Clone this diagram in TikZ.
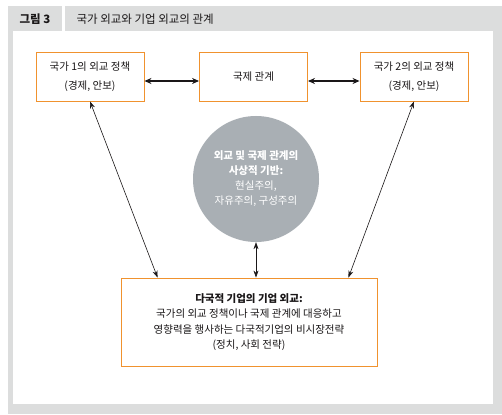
\documentclass[tikz,border=0pt]{standalone}
\usepackage{fontspec}
\setmainfont{Noto Sans CJK KR}
\usepackage{tikz}
\usetikzlibrary{arrows.meta}
\usepackage{xcolor}

\definecolor{frame}{HTML}{DCDDDD}
\definecolor{boxline}{HTML}{F0922E}
\definecolor{disc}{HTML}{A9AFB4}
\definecolor{ink}{HTML}{1A1718}

\tikzset{
  policy/.style={draw=boxline, line width=0.9pt, fill=white, text=ink, align=center,
    minimum width=108pt, minimum height=49pt, font=\fontsize{10.5}{19}\selectfont},
  firm/.style={draw=boxline, line width=0.9pt, fill=white, text=ink, align=center,
    minimum width=256pt, minimum height=88pt, font=\fontsize{10.5}{15.5}\selectfont},
  link/.style={{Stealth[length=7pt,width=6pt]}-{Stealth[length=7pt,width=6pt]}, line width=1.1pt, ink},
  tie/.style={{Stealth[length=7pt,width=5pt]}-{Stealth[length=7pt,width=5pt]}, line width=0.6pt, ink}
}

\begin{document}
\begin{tikzpicture}[x=1pt, y=-1pt]
    % frame and header
    \fill[frame] (0,0) rectangle (502,414);
    \fill[white] (0,0) rectangle (502,6);
    \fill[white] (0,0) rectangle (8,414);
    \fill[white] (13,31) rectangle (493,404);
    \fill[white] (62,6) rectangle (65,31);
    \node[text=ink, font=\fontsize{11.5}{12}\selectfont\bfseries] (fig) at (35,19) {그림 3};
    \node[text=ink, anchor=west, font=\fontsize{11.5}{12}\selectfont] (title) at (73,19) {국가 외교와 기업 외교의 관계};
    % boxes
    \node[policy] (state1) at (90,76.5) {국가 1의 외교 정책\\(경제, 안보)};
    \node[policy] (relations) at (253.5,76.5) {국제 관계};
    \node[policy] (state2) at (414,76.5) {국가 2의 외교 정책\\(경제, 안보)};
    \node[circle, fill=disc, minimum size=126pt, inner sep=0pt, text=white, align=center,
      font=\fontsize{10.5}{15}\selectfont] (theory) at (256,179)
      {\textbf{외교 및 국제 관계의}\\\textbf{사상적 기반:}\\현실주의,\\자유주의, 구성주의};
    \node[firm] (corp) at (249,322)
      {\textbf{다국적 기업의 기업 외교:}\\국가의 외교 정책이나 국제 관계에 대응하고\\영향력을 행사하는 다국적기업의 비시장전략\\(정치, 사회 전략)};
    % arrows
    \draw[link] ([yshift=-4.5pt]state1.east) -- ([yshift=-4.5pt]relations.west);
    \draw[link] ([yshift=-4.5pt]relations.east) -- ([yshift=-4.5pt]state2.west);
    \draw[tie] (state1.south) -- ([xshift=37pt]corp.north west);
    \draw[tie] (state2.south) -- ([xshift=-29pt]corp.north east);
    \draw[tie] (theory.south) -- (theory.south |- corp.north);
\end{tikzpicture}
\end{document}
